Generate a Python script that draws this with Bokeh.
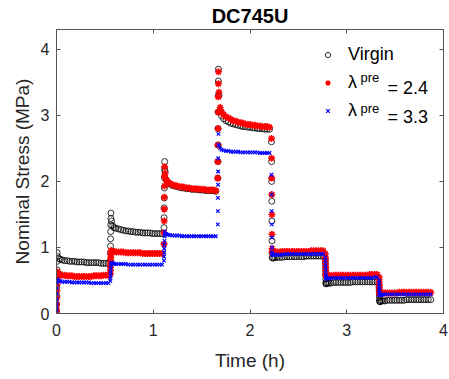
from bokeh.plotting import figure
from bokeh.models import Range1d, LinearAxis, Legend, LegendItem, Label, FixedTicker
from bokeh.embed import file_html
from bokeh.resources import INLINE

# ---------------- data ----------------
# time in hours, shared by all three series (7 strain steps, each: ramp then relaxation)
time_h = [
    0.000, 0.001, 0.002, 0.003, 0.004, 0.005, 0.006, 0.007,
    0.012, 0.025, 0.040, 0.060, 0.085, 0.110, 0.135, 0.160, 0.185, 0.210, 0.235, 0.260,
    0.285, 0.310, 0.335, 0.360, 0.385, 0.410, 0.435, 0.460, 0.485, 0.510, 0.535,
    0.556, 0.557, 0.558, 0.559, 0.560, 0.561, 0.562, 0.563,
    0.568, 0.581, 0.596, 0.616, 0.641, 0.666, 0.691, 0.716, 0.741, 0.766, 0.791, 0.816,
    0.841, 0.866, 0.891, 0.916, 0.941, 0.966, 0.991, 1.016, 1.041, 1.066, 1.091,
    1.111, 1.112, 1.113, 1.114, 1.115, 1.116, 1.117, 1.118,
    1.123, 1.136, 1.151, 1.171, 1.196, 1.221, 1.246, 1.271, 1.296, 1.321, 1.346, 1.371,
    1.396, 1.421, 1.446, 1.471, 1.496, 1.521, 1.546, 1.571, 1.596, 1.621, 1.646,
    1.667, 1.668, 1.669, 1.670, 1.671, 1.672, 1.673, 1.674,
    1.679, 1.692, 1.707, 1.727, 1.752, 1.777, 1.802, 1.827, 1.852, 1.877, 1.902, 1.927,
    1.952, 1.977, 2.002, 2.027, 2.052, 2.077, 2.102, 2.127, 2.152, 2.177, 2.202,
    2.222, 2.223, 2.224, 2.225, 2.226, 2.227, 2.228, 2.229,
    2.234, 2.247, 2.262, 2.282, 2.307, 2.332, 2.357, 2.382, 2.407, 2.432, 2.457, 2.482,
    2.507, 2.532, 2.557, 2.582, 2.607, 2.632, 2.657, 2.682, 2.707, 2.732, 2.757,
    2.778, 2.779, 2.780, 2.781, 2.782, 2.783, 2.784, 2.785,
    2.790, 2.803, 2.818, 2.838, 2.863, 2.888, 2.913, 2.938, 2.963, 2.988, 3.013, 3.038,
    3.063, 3.088, 3.113, 3.138, 3.163, 3.188, 3.213, 3.238, 3.263, 3.288, 3.313,
    3.333, 3.334, 3.335, 3.336, 3.337, 3.338, 3.339, 3.340,
    3.345, 3.358, 3.373, 3.393, 3.418, 3.443, 3.468, 3.493, 3.518, 3.543, 3.568, 3.593,
    3.618, 3.643, 3.668, 3.693, 3.718, 3.743, 3.768, 3.793, 3.818, 3.843, 3.868,
]

# Nominal stress (MPa), virgin sample
stress_virgin = [
    0.02, 0.14, 0.27, 0.40, 0.53, 0.66, 0.79, 0.92,
    0.86, 0.83, 0.82, 0.81, 0.80, 0.80, 0.79, 0.79, 0.79, 0.78, 0.78, 0.78,
    0.78, 0.77, 0.77, 0.77, 0.77, 0.77, 0.77, 0.76, 0.76, 0.76, 0.76,
    0.80, 0.91, 1.02, 1.13, 1.24, 1.34, 1.44, 1.52,
    1.40, 1.33, 1.30, 1.29, 1.28, 1.27, 1.26, 1.25, 1.25, 1.24, 1.24, 1.23,
    1.23, 1.23, 1.22, 1.22, 1.22, 1.22, 1.21, 1.21, 1.21, 1.21, 1.21,
    1.30, 1.45, 1.60, 1.75, 1.90, 2.05, 2.18, 2.30,
    2.15, 2.02, 1.98, 1.96, 1.94, 1.93, 1.92, 1.91, 1.90, 1.90, 1.89, 1.89,
    1.88, 1.88, 1.88, 1.87, 1.87, 1.87, 1.86, 1.86, 1.86, 1.86, 1.85,
    2.05, 2.30, 2.55, 2.80, 3.05, 3.30, 3.52, 3.70,
    3.30, 3.06, 2.99, 2.95, 2.92, 2.90, 2.88, 2.87, 2.86, 2.85, 2.84, 2.83,
    2.83, 2.82, 2.82, 2.81, 2.81, 2.80, 2.80, 2.80, 2.79, 2.79, 2.79,
    2.60, 2.30, 2.00, 1.70, 1.40, 1.10, 0.92, 0.85,
    0.84, 0.84, 0.85, 0.85, 0.85, 0.85, 0.86, 0.86, 0.86, 0.86, 0.86, 0.86,
    0.86, 0.86, 0.86, 0.87, 0.87, 0.87, 0.87, 0.87, 0.87, 0.87, 0.87,
    0.82, 0.76, 0.70, 0.64, 0.58, 0.52, 0.47, 0.45,
    0.45, 0.46, 0.46, 0.46, 0.47, 0.47, 0.47, 0.47, 0.47, 0.47, 0.47, 0.47,
    0.48, 0.48, 0.48, 0.48, 0.48, 0.48, 0.48, 0.48, 0.48, 0.48, 0.48,
    0.44, 0.40, 0.36, 0.32, 0.28, 0.24, 0.20, 0.18,
    0.18, 0.19, 0.19, 0.19, 0.20, 0.20, 0.20, 0.20, 0.20, 0.20, 0.20, 0.20,
    0.21, 0.21, 0.21, 0.21, 0.21, 0.21, 0.21, 0.21, 0.21, 0.21, 0.21,
]

# Nominal stress (MPa), pre-stretched to lambda_pre = 2.4
stress_pre24 = [
    0.03, 0.06, 0.14, 0.24, 0.34, 0.44, 0.54, 0.63,
    0.61, 0.60, 0.59, 0.58, 0.58, 0.57, 0.57, 0.57, 0.56, 0.56, 0.56, 0.56,
    0.56, 0.56, 0.56, 0.56, 0.57, 0.57, 0.57, 0.57, 0.58, 0.58, 0.58,
    0.60, 0.65, 0.70, 0.75, 0.80, 0.85, 0.90, 0.95,
    0.95, 0.94, 0.94, 0.93, 0.93, 0.93, 0.93, 0.92, 0.92, 0.92, 0.92, 0.92,
    0.92, 0.92, 0.91, 0.91, 0.91, 0.91, 0.91, 0.91, 0.91, 0.91, 0.91,
    1.05, 1.22, 1.40, 1.58, 1.76, 1.93, 2.08, 2.22,
    2.12, 2.02, 1.99, 1.97, 1.95, 1.94, 1.93, 1.92, 1.92, 1.91, 1.90, 1.90,
    1.89, 1.89, 1.89, 1.88, 1.88, 1.88, 1.87, 1.87, 1.87, 1.87, 1.86,
    2.05, 2.30, 2.55, 2.80, 3.05, 3.28, 3.48, 3.66,
    3.35, 3.12, 3.05, 3.01, 2.98, 2.96, 2.94, 2.92, 2.91, 2.90, 2.89, 2.88,
    2.87, 2.86, 2.86, 2.85, 2.85, 2.84, 2.84, 2.83, 2.83, 2.83, 2.82,
    2.65, 2.35, 2.05, 1.80, 1.50, 1.20, 0.98, 0.93,
    0.93, 0.93, 0.93, 0.93, 0.93, 0.94, 0.94, 0.94, 0.94, 0.94, 0.94, 0.94,
    0.94, 0.94, 0.94, 0.94, 0.94, 0.95, 0.95, 0.95, 0.95, 0.95, 0.95,
    0.90, 0.85, 0.80, 0.75, 0.70, 0.65, 0.60, 0.57,
    0.57, 0.57, 0.57, 0.57, 0.58, 0.58, 0.58, 0.58, 0.58, 0.58, 0.58, 0.58,
    0.58, 0.58, 0.58, 0.58, 0.58, 0.58, 0.58, 0.59, 0.59, 0.59, 0.59,
    0.55, 0.51, 0.47, 0.43, 0.39, 0.35, 0.32, 0.30,
    0.30, 0.30, 0.31, 0.31, 0.31, 0.31, 0.31, 0.31, 0.31, 0.32, 0.32, 0.32,
    0.32, 0.32, 0.32, 0.32, 0.32, 0.32, 0.32, 0.32, 0.32, 0.32, 0.32,
]

# Nominal stress (MPa), pre-stretched to lambda_pre = 3.3
stress_pre33 = [
    0.02, 0.08, 0.15, 0.22, 0.30, 0.38, 0.46, 0.52,
    0.50, 0.49, 0.49, 0.48, 0.48, 0.48, 0.48, 0.47, 0.47, 0.47, 0.47, 0.47,
    0.47, 0.47, 0.47, 0.46, 0.46, 0.46, 0.46, 0.46, 0.46, 0.46, 0.46,
    0.49, 0.53, 0.57, 0.61, 0.65, 0.69, 0.73, 0.77,
    0.76, 0.76, 0.75, 0.75, 0.75, 0.75, 0.75, 0.75, 0.74, 0.74, 0.74, 0.74,
    0.74, 0.74, 0.74, 0.74, 0.74, 0.74, 0.74, 0.74, 0.74, 0.74, 0.74,
    0.80, 0.86, 0.92, 0.98, 1.04, 1.10, 1.17, 1.24,
    1.21, 1.20, 1.19, 1.19, 1.18, 1.18, 1.18, 1.18, 1.17, 1.17, 1.17, 1.17,
    1.17, 1.17, 1.17, 1.17, 1.17, 1.17, 1.17, 1.17, 1.17, 1.17, 1.17,
    1.35, 1.55, 1.75, 1.95, 2.15, 2.35, 2.55, 2.72,
    2.55, 2.50, 2.48, 2.47, 2.46, 2.46, 2.45, 2.45, 2.45, 2.45, 2.44, 2.44,
    2.44, 2.44, 2.44, 2.44, 2.44, 2.44, 2.43, 2.43, 2.43, 2.43, 2.43,
    2.10, 1.80, 1.55, 1.35, 1.15, 1.00, 0.93, 0.90,
    0.89, 0.89, 0.89, 0.89, 0.89, 0.89, 0.90, 0.90, 0.90, 0.90, 0.90, 0.90,
    0.90, 0.90, 0.90, 0.90, 0.90, 0.90, 0.90, 0.90, 0.90, 0.90, 0.90,
    0.85, 0.80, 0.75, 0.70, 0.65, 0.60, 0.56, 0.53,
    0.53, 0.53, 0.53, 0.54, 0.54, 0.54, 0.54, 0.54, 0.54, 0.54, 0.54, 0.54,
    0.54, 0.54, 0.54, 0.54, 0.54, 0.54, 0.54, 0.54, 0.54, 0.55, 0.55,
    0.50, 0.46, 0.42, 0.38, 0.35, 0.32, 0.29, 0.28,
    0.28, 0.28, 0.29, 0.29, 0.29, 0.29, 0.29, 0.29, 0.29, 0.29, 0.29, 0.29,
    0.29, 0.29, 0.29, 0.29, 0.29, 0.29, 0.29, 0.29, 0.29, 0.29, 0.29,
]

x_ticks = [0, 1, 2, 3, 4]
y_ticks = [0, 1, 2, 3, 4]
series_labels = ["Virgin", "λ", "λ"]
legend_sup = "pre"
legend_values = ["= 2.4", "= 3.3"]

assert len(time_h) == len(stress_virgin) == len(stress_pre24) == len(stress_pre33), (
    len(time_h), len(stress_virgin), len(stress_pre24), len(stress_pre33))

# ---------------- styling ----------------
FONT = "Liberation Sans"
AX = "#262626"
LINE = "#555555"

p = figure(width=449, height=379, output_backend="svg", toolbar_location=None,
           x_range=Range1d(0, 4), y_range=Range1d(0, 4.3),
           min_border_left=56, min_border_right=6, min_border_top=29, min_border_bottom=66,
           background_fill_color="white", border_fill_color="white")

p.title.text = "DC745U"
p.title.align = "center"
p.title.text_font = FONT
p.title.text_font_size = "20px"
p.title.text_font_style = "bold"
p.title.text_color = "#000000"
p.title.standoff = 5

p.xgrid.visible = False
p.ygrid.visible = False
p.outline_line_color = LINE

for ax, ticks in ((p.xaxis[0], x_ticks), (p.yaxis[0], y_ticks)):
    ax.ticker = FixedTicker(ticks=ticks)
    ax.major_tick_in = 4
    ax.major_tick_out = 0
    ax.minor_tick_line_color = None
    ax.axis_line_color = LINE
    ax.major_tick_line_color = LINE
    ax.major_label_text_font = FONT
    ax.major_label_text_font_size = "16px"
    ax.major_label_text_color = AX
    ax.axis_label_text_font = FONT
    ax.axis_label_text_font_size = "19px"
    ax.axis_label_text_font_style = "normal"
    ax.axis_label_text_color = AX

p.xaxis[0].axis_label = "Time (h)"
p.xaxis[0].major_label_standoff = 10
p.xaxis[0].axis_label_standoff = 11
p.yaxis[0].axis_label = "Nominal Stress (MPa)"
p.yaxis[0].major_label_standoff = 7
p.yaxis[0].axis_label_standoff = 5

for side, ticks in (("above", x_ticks), ("right", y_ticks)):
    ax = LinearAxis(ticker=FixedTicker(ticks=ticks), major_tick_in=4, major_tick_out=0,
                    minor_tick_line_color=None, axis_line_color=LINE,
                    major_tick_line_color=LINE, major_label_text_font_size="0px",
                    major_label_standoff=0, major_label_text_alpha=0)
    p.add_layout(ax, side)

r_v = p.scatter(time_h, stress_virgin, marker="circle", size=6, fill_color=None,
                line_color="black", line_width=0.8)
r_r = p.scatter(time_h, stress_pre24, marker="asterisk", size=7,
                line_color="red", line_width=1.6)
r_b = p.scatter(time_h, stress_pre33, marker="x", size=5,
                line_color="blue", line_width=1.2)

legend = Legend(items=[LegendItem(label=series_labels[0], renderers=[r_v]),
                       LegendItem(label=series_labels[1], renderers=[r_r]),
                       LegendItem(label=series_labels[2], renderers=[r_b])],
                location=(265, 192), border_line_color=None, background_fill_alpha=0,
                padding=0, margin=0, spacing=7, glyph_width=13, glyph_height=13,
                label_height=21, label_standoff=14, label_text_font=FONT,
                label_text_font_size="18px", label_text_color="#000000")
p.add_layout(legend)

for i, (sy_sup, sy_val) in enumerate(((236, 226), (205, 197))):
    p.add_layout(Label(x=304, y=sy_sup, x_units="screen", y_units="screen", text=legend_sup,
                       text_font=FONT, text_font_size="13px", text_baseline="middle",
                       text_color="#000000"))
    p.add_layout(Label(x=331, y=sy_val, x_units="screen", y_units="screen",
                       text=legend_values[i], text_font=FONT, text_font_size="18px",
                       text_baseline="middle", text_color="#000000"))

open("out.html", "w").write(file_html(p, INLINE))
